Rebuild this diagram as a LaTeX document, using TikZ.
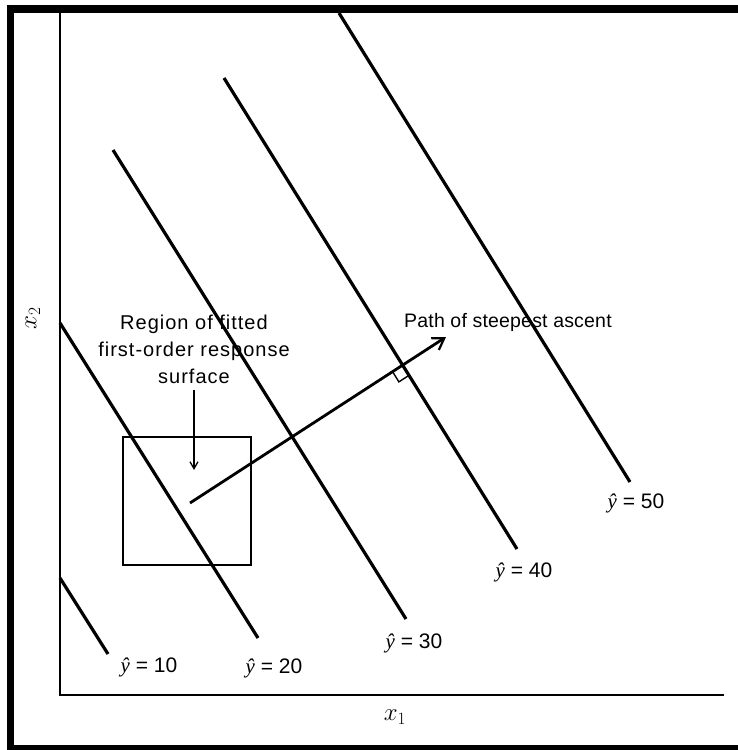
\documentclass[tikz,border=0pt]{standalone}
\usepackage{fontspec}
\setmainfont{Liberation Sans}
\newfontfamily\yhatfont{Liberation Serif}
\usetikzlibrary{arrows.meta,calc}
\newcommand{\yh}{{\yhatfont\itshape ŷ}}
\begin{document}
\begin{tikzpicture}[x=1pt,y=-1pt,
  contour/.style={line width=3.2pt},
  axisline/.style={line width=2.2pt},
  boxline/.style={line width=2.8pt},
  lbl/.style={font=\fontsize{21}{24}\selectfont, inner sep=0pt},
  txt/.style={font=\fontsize{20}{27}\selectfont\addfontfeatures{LetterSpace=5}, inner sep=0pt, align=center},
  pathtxt/.style={font=\fontsize{19.5}{24}\selectfont\addfontfeatures{LetterSpace=1}, inner sep=0pt},
  axlbl/.style={font=\fontsize{24}{28}\selectfont, inner sep=0pt}]
\useasboundingbox (0,0) rectangle (738,750);
% frame
\fill[black] (7,5) rectangle (14,750);
\fill[black] (7,5) rectangle (738,13);
\fill[black] (7,745) rectangle (738,750);
% axes
\coordinate (O) at (60,695);
\coordinate (ytop) at (60,13);
\coordinate (xend) at (724,695);
\draw[axisline] (ytop) -- (O) -- (xend);
\node[axlbl, rotate=90] (x2) at (33,318) {$x_2$};
\node[axlbl] (x1) at (395,717) {$x_1$};
% contours
\coordinate (c10a) at (60,578);  \coordinate (c10b) at (108,654);
\coordinate (c20a) at (60,323);  \coordinate (c20b) at (258,638);
\coordinate (c30a) at (113,150); \coordinate (c30b) at (406,619);
\coordinate (c40a) at (224,78);  \coordinate (c40b) at (517,549);
\coordinate (c50a) at (339,13);  \coordinate (c50b) at (630,482);
\draw[contour] (c10a) -- (c10b);
\draw[contour] (c20a) -- (c20b);
\draw[contour] (c30a) -- (c30b);
\draw[contour] (c40a) -- (c40b);
\draw[contour] (c50a) -- (c50b);
\node[lbl] (l10) at (149,667) {\yh\ = 10};
\node[lbl] (l20) at (274,668) {\yh\ = 20};
\node[lbl] (l30) at (414,643) {\yh\ = 30};
\node[lbl] (l40) at (524,572) {\yh\ = 40};
\node[lbl] (l50) at (636,503) {\yh\ = 50};
% region box
\node[draw, boxline, minimum width=128pt, minimum height=128pt, inner sep=0pt] (box) at (187,501) {};
% path of steepest ascent
\coordinate (p0) at (190,503);
\coordinate (p1) at (446,337);
\draw[line width=2.8pt, -{Straight Barb[length=11pt,width=14pt,line width=2.2pt]}] (p0) -- (p1);
\coordinate (I) at (intersection of c40a--c40b and p0--p1);
\coordinate (ra) at ($(I)!12pt!(c40b)$);
\coordinate (rb) at ($(I)!12pt!(p0)$);
\coordinate (rc) at ($(ra)+(rb)-(I)$);
\draw[line width=1.4pt] (ra) -- (rc) -- (rb);
\node[pathtxt, anchor=west] (pathlbl) at (404,322) {Path of steepest ascent};
% region label and pointer
\node[txt] (reglbl) at (194,349) {Region of fitted\\first-order response\\surface};
\coordinate (q0) at (194,390);
\coordinate (q1) at (194,470);
\draw[line width=1.3pt, -{Straight Barb[length=7pt,width=8pt]}] (q0) -- (q1);
\end{tikzpicture}
\end{document}
